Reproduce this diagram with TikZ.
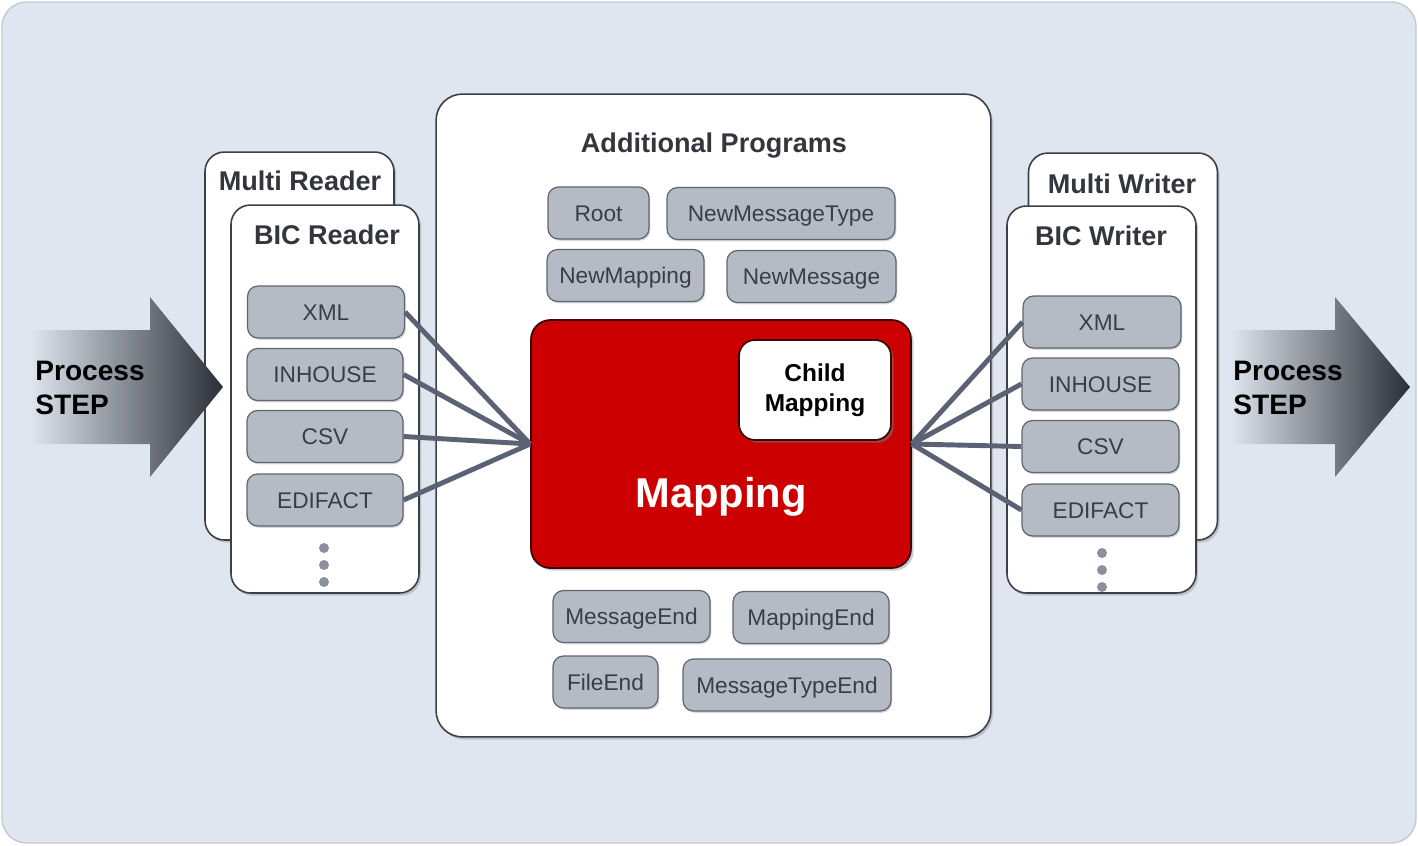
\documentclass[tikz,border=0pt]{standalone}
\usepackage{fontspec}
\setmainfont{Liberation Sans}
\usetikzlibrary{shadows}
\definecolor{bgblue}{HTML}{DFE6EF}
\definecolor{bgline}{HTML}{C3CAD4}
\definecolor{panelline}{HTML}{3C3F45}
\definecolor{itemfill}{HTML}{B5BBC5}
\definecolor{itemline}{HTML}{60656F}
\definecolor{itemtext}{HTML}{3A3D44}
\definecolor{titletext}{HTML}{33363C}
\definecolor{linkcol}{HTML}{5B6274}
\definecolor{dotcol}{HTML}{8A909C}
\definecolor{mapred}{HTML}{CC0000}
\definecolor{mapline}{HTML}{3A0808}
\definecolor{arrowdark}{HTML}{2A2E36}
\begin{document}
\begin{tikzpicture}[x=0.02cm,y=-0.02cm,
    panel/.style={draw=panelline,fill=white,line width=0.9pt,rounded corners=11pt,inner sep=0pt,
        drop shadow={shadow xshift=1.2pt,shadow yshift=-1.5pt,opacity=0.35}},
    item/.style={draw=itemline,fill=itemfill,line width=0.7pt,rounded corners=6pt,inner sep=0pt,
        minimum height=1.04cm,text height=9.2pt,text depth=0pt,text=itemtext,font=\fontsize{12.9}{15}\selectfont,
        drop shadow={shadow xshift=0.8pt,shadow yshift=-1pt,opacity=0.3}},
    title/.style={anchor=base,text=titletext,font=\bfseries\fontsize{15.4}{18}\selectfont},
    proc/.style={anchor=west,align=left,inner sep=0pt,text=black,font=\bfseries\fontsize{16}{19.5}\selectfont},
    link/.style={draw=linkcol,line width=2.8pt},
    dot/.style={circle,fill=dotcol,inner sep=0pt,minimum size=0.2cm}]
    \useasboundingbox (0,0) rectangle (1418,846);
    \draw[fill=bgblue,draw=bgline,line width=0.8pt,rounded corners=14pt] (2,2) rectangle (1416,843);
    % reader side
    \node[panel,minimum width=3.78cm,minimum height=7.76cm] (mreader) at (299.5,346) {};
    \node[title] (mreadert) at (300,190) {Multi Reader};
    \node[panel,minimum width=3.76cm,minimum height=7.76cm] (breader) at (325,399) {};
    \node[title] (breadert) at (327,244) {BIC Reader};
    \node[item,minimum width=3.14cm] (rxml) at (326,312) {XML};
    \node[item,minimum width=3.12cm] (rinh) at (325,374.5) {INHOUSE};
    \node[item,minimum width=3.12cm] (rcsv) at (325,436.5) {CSV};
    \node[item,minimum width=3.12cm] (redi) at (325,500) {EDIFACT};
    \node[dot] (rd1) at (324,548) {};
    \node[dot] (rd2) at (324,565) {};
    \node[dot] (rd3) at (324,582) {};
    % writer side
    \node[panel,minimum width=3.78cm,minimum height=7.74cm] (mwriter) at (1123,346.5) {};
    \node[title] (mwritert) at (1122,193) {Multi Writer};
    \node[panel,minimum width=3.78cm,minimum height=7.74cm] (bwriter) at (1101.5,399.5) {};
    \node[title] (bwritert) at (1101,245) {BIC Writer};
    \node[item,minimum width=3.16cm] (wxml) at (1102,322) {XML};
    \node[item,minimum width=3.14cm] (winh) at (1100.5,384) {INHOUSE};
    \node[item,minimum width=3.14cm] (wcsv) at (1100.5,446.5) {CSV};
    \node[item,minimum width=3.14cm] (wedi) at (1100.5,510) {EDIFACT};
    \node[dot] (wd1) at (1102,553) {};
    \node[dot] (wd2) at (1102,570) {};
    \node[dot] (wd3) at (1102,587) {};
    % arrows
    \shade[left color=bgblue,right color=arrowdark] (30,330) -- (150,330) -- (150,297) -- (223,387) -- (150,477) -- (150,444) -- (30,444) -- cycle;
    \shade[left color=bgblue,right color=arrowdark] (1230,330) -- (1335,330) -- (1335,297) -- (1410,387) -- (1335,477) -- (1335,444) -- (1230,444) -- cycle;
    \node[proc] (pin) at (35,388) {Process\\STEP};
    \node[proc] (pout) at (1233,388) {Process\\STEP};
    % center
    \node[panel,rounded corners=15pt,minimum width=11.1cm,minimum height=12.86cm] (progs) at (713.5,415.5) {};
    \node[title] (progst) at (714,152) {Additional Programs};
    \node[item,minimum width=2.02cm] (root) at (598.5,213) {Root};
    \node[item,minimum width=4.56cm] (nmt) at (781,213.5) {NewMessageType};
    \node[item,minimum width=3.14cm] (nmap) at (625.5,275.5) {NewMapping};
    \node[item,minimum width=3.38cm] (nmsg) at (811.5,276.5) {NewMessage};
    \node[item,minimum width=3.14cm] (msgend) at (631.5,616.5) {MessageEnd};
    \node[item,minimum width=3.12cm] (mapend) at (811,617.5) {MappingEnd};
    \node[item,minimum width=2.1cm] (fileend) at (605.5,682) {FileEnd};
    \node[item,minimum width=4.16cm] (mtend) at (787,685) {MessageTypeEnd};
    \node[draw=mapline,fill=mapred,line width=1pt,rounded corners=11pt,inner sep=0pt,minimum width=7.6cm,minimum height=4.96cm,
        drop shadow={shadow xshift=1.5pt,shadow yshift=-1.5pt,opacity=0.4}] (map) at (721,444) {};
    \node[text=white,font=\bfseries\fontsize{23.7}{28}\selectfont] (mapt) at (721,497) {Mapping};
    \node[draw=mapline,fill=white,line width=1pt,rounded corners=9pt,inner sep=0pt,minimum width=3.04cm,minimum height=2cm,
        align=center,font=\bfseries\fontsize{13.9}{17}\selectfont,
        drop shadow={shadow xshift=1.5pt,shadow yshift=-1.5pt,opacity=0.5}] (child) at (815,390) {Child\\Mapping};
    % links
    \draw[link] (rxml.east) -- (map.west);
    \draw[link] (rinh.east) -- (map.west);
    \draw[link] (rcsv.east) -- (map.west);
    \draw[link] (redi.east) -- (map.west);
    \draw[link] (wxml.west) -- (map.east);
    \draw[link] (winh.west) -- (map.east);
    \draw[link] (wcsv.west) -- (map.east);
    \draw[link] (wedi.west) -- (map.east);
\end{tikzpicture}
\end{document}
